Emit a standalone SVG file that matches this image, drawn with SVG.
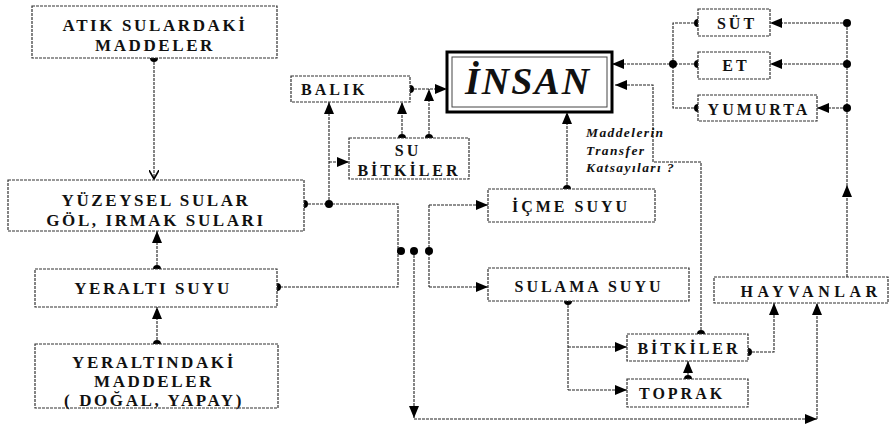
<svg xmlns="http://www.w3.org/2000/svg" width="889" height="427" viewBox="0 0 889 427">
<style>
.box{fill:#fff;stroke:#333;stroke-width:1.2;stroke-dasharray:3 1}
.t{font-family:"Liberation Serif","Times New Roman",serif;font-weight:bold;font-size:16px;fill:#111;text-anchor:middle;letter-spacing:3px}
.L{font-size:17px;letter-spacing:2.6px}
.c{fill:none;stroke:#222;stroke-width:1.1;stroke-dasharray:3 1}
.a{marker-end:url(#ar)}
.dot{fill:#000}
.it{font-family:"Liberation Serif","Times New Roman",serif;font-style:italic;font-weight:bold;font-size:13.5px;fill:#111;letter-spacing:1.4px}
</style>
<defs>
<marker id="ar" markerUnits="userSpaceOnUse" markerWidth="12" markerHeight="10" refX="12" refY="5" orient="auto"><path d="M0,0 L12,5 L0,10 z" fill="#000"/></marker>
<marker id="op" markerUnits="userSpaceOnUse" markerWidth="10" markerHeight="10" refX="9" refY="5" orient="auto"><path d="M0,0 L9,5 L0,10" fill="none" stroke="#000" stroke-width="1.6"/></marker>
</defs>
<rect width="889" height="427" fill="#fff"/>
<g id="connectors">
<path class="c" d="M154,58 V179" marker-end="url(#op)"/>
<path class="c a" d="M157,269 V231"/>
<path class="c a" d="M157,344 V307"/>
<path class="c" d="M304,204 H398 V287 H277"/>
<path class="c a" d="M329,204 V102"/>
<path class="c a" d="M329,162 H349"/>
<path class="c a" d="M402,138 V102"/>
<path class="c a" d="M429,138 V89"/>
<path class="c a" d="M410,89 H447"/>
<path class="c a" d="M414,251 V418"/>
<path class="c a" d="M414,419 H817"/>
<path class="c a" d="M817,419 V303"/>
<path class="c" d="M429,205 V287"/>
<path class="c a" d="M429,205 H488"/>
<path class="c a" d="M429,287 H488"/>
<path class="c a" d="M567,189 V112"/>
<path class="c" d="M568,301 V390"/>
<path class="c a" d="M568,347 H627"/>
<path class="c a" d="M568,390 H627"/>
<path class="c a" d="M688,379 V361"/>
<path class="c a" d="M748,352 H774 V303"/>
<path class="c a" d="M701,334 V162 H653 V85 H615"/>
<path class="c a" d="M847,277 V185"/>
<path class="c" d="M847,186 V23"/>
<path class="c a" d="M847,23 H770"/>
<path class="c a" d="M847,64 H770"/>
<path class="c a" d="M847,108 H817"/>
<path class="c" d="M698,23 H673 V108 H698"/>
<path class="c a" d="M698,64 H612"/>
<g class="dot">
<circle cx="154" cy="58" r="4"/>
<circle cx="157" cy="269" r="4"/>
<circle cx="157" cy="344" r="4"/>
<circle cx="304" cy="204" r="4"/>
<circle cx="329" cy="204" r="4"/>
<circle cx="277" cy="287" r="4"/>
<circle cx="402" cy="138" r="4"/>
<circle cx="429" cy="138" r="4"/>
<circle cx="410" cy="89" r="4"/>
<circle cx="401" cy="251" r="4"/>
<circle cx="414" cy="251" r="4"/>
<circle cx="429" cy="251" r="4"/>
<circle cx="567" cy="189" r="4"/>
<circle cx="568" cy="301" r="4"/>
<circle cx="688" cy="379" r="4"/>
<circle cx="748" cy="352" r="4"/>
<circle cx="701" cy="334" r="4"/>
<circle cx="847" cy="23" r="4"/>
<circle cx="847" cy="64" r="4"/>
<circle cx="847" cy="108" r="4"/>
<circle cx="698" cy="23" r="4"/>
<circle cx="698" cy="64" r="4"/>
<circle cx="698" cy="108" r="4"/>
<circle cx="673" cy="64" r="4"/>
</g>
</g>
<g id="atik"><rect class="box" x="32" y="6" width="245" height="52"/><text class="t L" x="155" y="31">ATIK SULARDAKİ</text><text class="t L" x="155" y="51">MADDELER</text></g>
<g id="yuzeysel"><rect class="box" x="8" y="180" width="296" height="51"/><text class="t L" x="156" y="206">YÜZEYSEL SULAR</text><text class="t L" x="156" y="226">GÖL, IRMAK SULARI</text></g>
<g id="yeralti"><rect class="box" x="35" y="269" width="242" height="38"/><text class="t L" x="153" y="294">YERALTI SUYU</text></g>
<g id="yeraltindaki"><rect class="box" x="35" y="344" width="243" height="64"/><text class="t L" x="154" y="368">YERALTINDAKİ</text><text class="t L" x="154" y="387">MADDELER</text><text class="t L" x="154" y="406">( DOĞAL, YAPAY)</text></g>
<g id="balik"><rect class="box" x="291" y="76" width="119" height="26"/><text class="t" x="301" y="95" style="text-anchor:start">BALIK</text></g>
<g id="subitkiler"><rect class="box" x="349" y="138" width="120" height="41"/><text class="t" x="408" y="156">SU</text><text class="t" x="409" y="176">BİTKİLER</text></g>
<g id="insan"><rect x="447" y="52" width="165" height="60" fill="#fff" stroke="#000" stroke-width="3"/><rect x="452" y="57" width="155" height="50" fill="none" stroke="#444" stroke-width="1"/><text x="465" y="94" font-family="Liberation Serif, Times New Roman, serif" font-weight="bold" font-style="italic" font-size="38" letter-spacing="2" fill="#111">İNSAN</text></g>
<g id="transfer"><text class="it" x="586" y="137">Maddelerin</text><text class="it" x="586" y="155">Transfer</text><text class="it" x="586" y="172">Katsayıları ?</text></g>
<g id="icme"><rect class="box" x="488" y="189" width="167" height="33"/><text class="t" x="571" y="212">İÇME SUYU</text></g>
<g id="sulama"><rect class="box" x="488" y="268" width="201" height="33"/><text class="t" x="589" y="292">SULAMA SUYU</text></g>
<g id="bitkiler"><rect class="box" x="627" y="334" width="121" height="27"/><text class="t" x="689" y="354">BİTKİLER</text></g>
<g id="toprak"><rect class="box" x="627" y="379" width="121" height="28"/><text class="t" x="639" y="399" style="text-anchor:start">TOPRAK</text></g>
<g id="hayvanlar"><rect class="box" x="714" y="277" width="174" height="26"/><text class="t" x="811" y="297" style="letter-spacing:4.5px">HAYVANLAR</text></g>
<g id="sut"><rect class="box" x="698" y="9" width="72" height="27"/><text class="t" x="737" y="29">SÜT</text></g>
<g id="et"><rect class="box" x="698" y="52" width="72" height="27"/><text class="t" x="736" y="71">ET</text></g>
<g id="yumurta"><rect class="box" x="698" y="95" width="119" height="26"/><text class="t" x="759" y="115">YUMURTA</text></g>
</svg>
